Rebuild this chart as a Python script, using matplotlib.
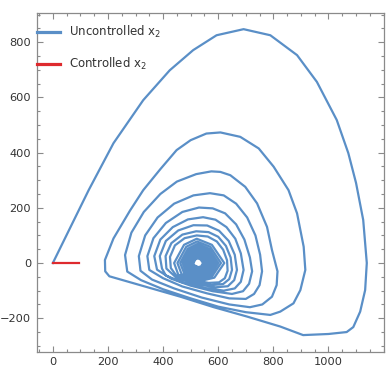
import matplotlib
matplotlib.use("Agg")
import matplotlib.pyplot as plt
from matplotlib.ticker import FixedLocator, MultipleLocator

plt.rcParams['font.family'] = ['DejaVu Sans']
plt.rcParams['mathtext.default'] = 'regular'

# uncontrolled trajectory, loop by loop (x, y)
loop1 = [(0, 0), (130, 264), (220, 434), (328, 590), (424, 698), (509, 771), (594, 825),
         (692, 847), (789, 825), (886, 753), (958, 656), (1030, 518), (1072, 398),
         (1100, 290), (1126, 156), (1139, 0), (1133, -98), (1115, -176), (1090, -232),
         (1066, -250), (1000, -257), (908, -261), (825, -230), (705, -194), (584, -160),
         (463, -122), (300, -75)]
loop2 = [(205, -48), (190, -30), (189, 11), (220, 89), (280, 190), (328, 264), (390, 340),
         (449, 409), (500, 445), (557, 469), (608, 473), (680, 457), (747, 415), (801, 349),
         (855, 264), (886, 180), (910, 59), (916, -25), (898, -98), (873, -146), (825, -176),
         (789, -188), (700, -178), (600, -158), (500, -128), (400, -95), (320, -62)]
loop3 = [(270, -31), (262, 29), (285, 110), (330, 185), (390, 250), (450, 295), (520, 322),
         (575, 332), (608, 330), (644, 318), (698, 276), (741, 216), (777, 131), (795, 47),
         (815, -30), (812, -80), (795, -122), (760, -150), (715, -160), (640, -150),
         (540, -125), (440, -92), (360, -60)]
loop4 = [(318, -28), (312, 25), (335, 100), (380, 165), (440, 215), (510, 245), (570, 253),
         (620, 245), (665, 215), (705, 165), (735, 100), (752, 30), (759, -30), (750, -80),
         (730, -112), (700, -130), (640, -128), (560, -110), (470, -85), (400, -55)]
loop5 = [(350, -25), (343, 25), (365, 90), (410, 145), (470, 185), (530, 201), (580, 198),
         (625, 180), (665, 140), (695, 85), (715, 20), (723, -30), (712, -75), (690, -102),
         (650, -112), (580, -102), (500, -82), (430, -57)]
loop6 = [(378, -24), (368, 25), (390, 85), (435, 130), (490, 158), (545, 166), (590, 157),
         (630, 130), (662, 88), (682, 35), (692, -25), (682, -68), (660, -92), (620, -100),
         (550, -90), (470, -70), (410, -45)]
loop7 = [(396, -20), (388, 25), (410, 80), (455, 118), (510, 137), (560, 136), (603, 117),
         (638, 80), (660, 30), (668, -25), (658, -62), (635, -84), (590, -88), (520, -76),
         (450, -55)]
loop8 = [(412, -20), (409, 25), (430, 72), (470, 103), (520, 115), (565, 112), (600, 95),
         (628, 62), (645, 20), (650, -25), (640, -58), (618, -76), (575, -80), (510, -68),
         (450, -48)]
loop9 = [(428, -18), (425, 22), (443, 64), (478, 90), (522, 100), (562, 96), (595, 78),
         (618, 48), (632, 10), (634, -28), (624, -55), (603, -70), (565, -72), (505, -60),
         (455, -42)]
# dense inner part around the fixed point
inner = [(440, 0), (476, 66), (522, 88), (577, 66), (622, 0), (586, -53), (531, -66), (467, -40),
         (452, 0), (484, 59), (523, 78), (571, 59), (610, 0), (578, -48), (531, -60), (476, -36),
         (462, 0), (490, 52), (524, 69), (566, 52), (600, 0), (572, -43), (531, -54), (483, -32),
         (471, 0), (495, 46), (525, 61), (561, 46), (591, 0), (567, -38), (531, -48), (489, -29),
         (479, 0), (500, 40), (526, 53), (557, 40), (583, 0), (562, -34), (531, -42), (495, -25),
         (486, 0), (504, 35), (527, 46), (554, 35), (576, 0), (558, -30), (531, -37), (500, -22),
         (492, 0), (507, 29), (527, 39), (550, 29), (569, 0), (554, -26), (530, -32), (504, -19),
         (498, 0), (511, 24), (527, 32), (546, 24), (562, 0), (549, -22), (530, -27), (508, -16),
         (503, 0), (514, 20), (527, 26), (543, 20), (556, 0), (545, -18), (530, -22), (511, -13),
         (507, 0), (516, 16), (526, 21), (539, 16), (550, 0), (541, -14), (529, -18), (513, -11),
         (510, 0), (517, 13), (526, 17), (536, 13), (545, 0), (538, -12), (528, -15), (515, -9)]

unc_pts = loop1 + loop2 + loop3 + loop4 + loop5 + loop6 + loop7 + loop8 + loop9 + inner
unc_x = [p[0] for p in unc_pts]
unc_y = [p[1] for p in unc_pts]

ctrl_x = [0, 95]
ctrl_y = [0, 0]

x_ticks = [0, 200, 400, 600, 800, 1000]
y_ticks = [-200, 0, 200, 400, 600, 800]

BLUE = '#5a8fc7'
RED = '#de2a2e'
GREY = '#8a8a8a'

fig = plt.figure(figsize=(3.92, 3.76), dpi=100)
ax = fig.add_axes([0.094, 0.064, 0.886, 0.901])

ax.plot(unc_x, unc_y, color=BLUE, lw=1.6, solid_joinstyle='round', label='Uncontrolled x$_2$')
ax.plot(ctrl_x, ctrl_y, color=RED, lw=1.6, label='Controlled x$_2$')

ax.set_xlim(-58, 1202)
ax.set_ylim(-322, 905)
ax.xaxis.set_major_locator(FixedLocator(x_ticks))
ax.xaxis.set_minor_locator(MultipleLocator(50))
ax.yaxis.set_major_locator(FixedLocator(y_ticks))
ax.yaxis.set_minor_locator(MultipleLocator(50))

for s in ax.spines.values():
    s.set_color(GREY)
    s.set_linewidth(0.9)
ax.tick_params(which='both', direction='in', top=True, right=True, color=GREY,
               labelsize=8.2, labelcolor='#333333', width=0.8)
ax.tick_params(which='major', length=4, pad=4)
ax.tick_params(which='minor', length=2.3)

leg = ax.legend(loc='upper left', bbox_to_anchor=(0.0, 0.968), frameon=False,
                fontsize=8.5, handlelength=2.0, handletextpad=0.7, labelspacing=1.35,
                borderaxespad=0.0, borderpad=0.0)
for ln in leg.get_lines():
    ln.set_linewidth(2.3)
for t in leg.get_texts():
    t.set_color('#333333')

fig.savefig('out.png', dpi=100)
